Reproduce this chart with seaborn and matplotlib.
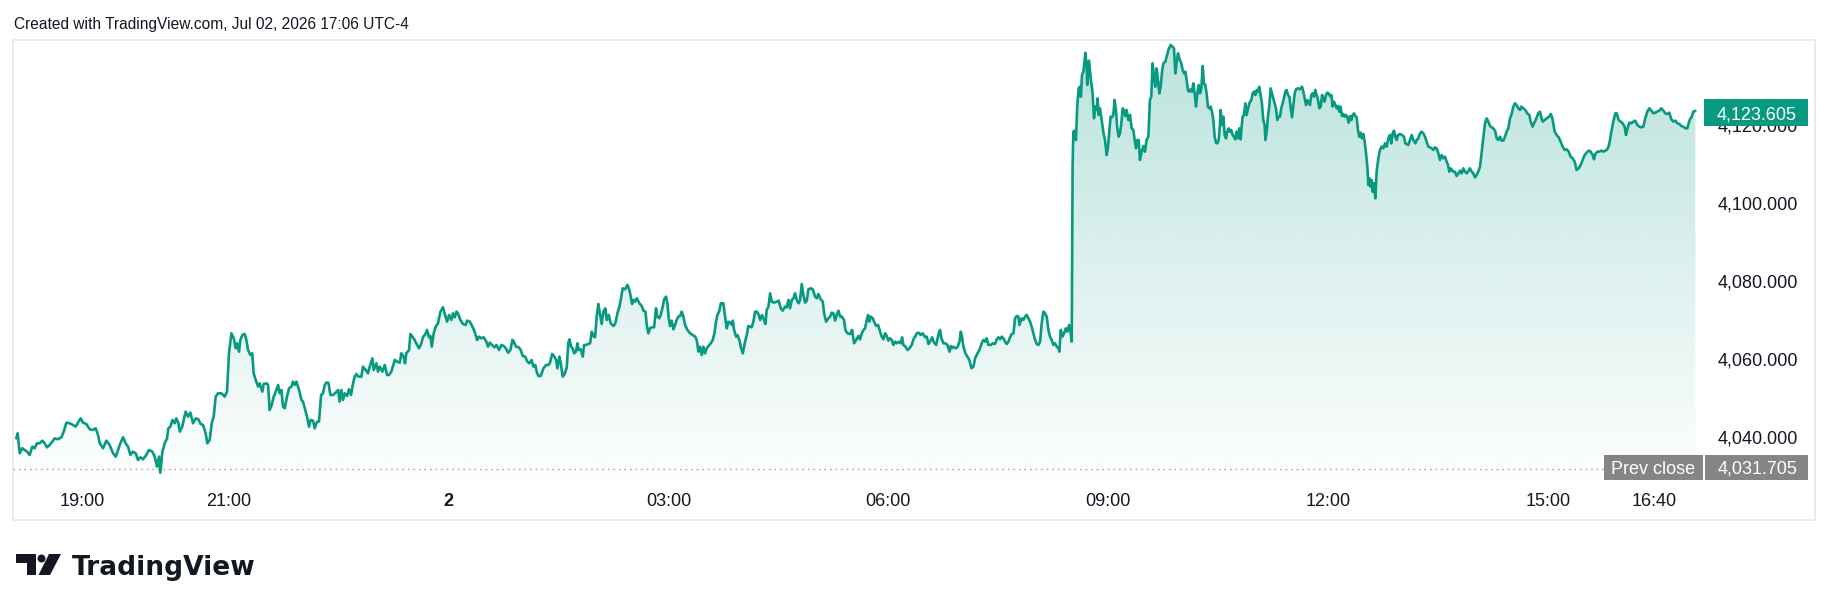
import numpy as np
import pandas as pd
import matplotlib
matplotlib.use("Agg")
import matplotlib.pyplot as plt
import matplotlib.colors as mcolors
import seaborn as sns
from matplotlib.patches import Rectangle, Polygon, Ellipse

# ---------------- data (time = minutes since 18:00 on Jul 1, price) ----------------
t_evening = [6.2, 7.3, 9.0, 11.1, 13.1, 15.0, 17.1, 19.3, 21.2, 23.1,
             25.3, 27.5, 29.4, 31.3, 33.5, 35.7, 37.6, 40.3, 43.1, 45.0,
             47.2, 49.9, 52.6, 54.8, 56.7, 58.9, 60.8, 63.5, 66.3, 69.0,
             71.2, 73.1, 74.5, 77.2, 79.9, 82.6, 85.4, 87.6, 89.5, 91.4,
             93.6, 95.7, 97.7, 99.6, 101.7, 103.9, 105.8, 107.8, 109.9, 112.1,
             114.8, 117.6, 119.5, 121.4, 123.0, 124.1, 125.8, 127.7, 129.6, 130.7,
             132.3, 134.0, 135.9, 137.2, 138.9, 140.0, 142.1, 143.8, 144.9, 146.8,
             148.7, 150.9, 153.1, 155.2, 157.1, 159.1, 161.2, 162.6, 164.5, 166.2,
             167.8, 169.4, 171.3, 174.1, 176.8, 178.7, 180.3, 182.3, 184.2, 185.8,
             186.9, 188.5, 189.6, 191.3, 193.2, 194.5, 195.9, 197.8, 199.4, 200.5,
             202.2, 204.1, 205.4, 207.6, 208.7, 210.9, 212.3, 213.6, 215.3, 216.9,
             219.1, 220.5, 221.8, 223.2, 224.6, 225.9, 227.8, 229.5, 231.4, 232.7,
             234.1, 235.5, 237.7, 239.6, 240.9, 243.1, 244.2, 245.8, 247.2, 249.1,
             250.5, 252.4, 254.0, 255.7, 257.3, 258.7, 260.0, 261.7, 263.3, 265.5,
             267.7, 269.6, 270.9, 272.3, 273.7, 275.0, 277.0, 278.6, 280.2, 281.9,
             283.2, 284.6, 286.2, 288.7, 290.0, 292.2, 294.1, 295.5, 297.7, 298.8,
             301.0, 302.3, 303.7, 305.9, 307.8, 309.7, 311.3, 313.2, 316.0, 317.9,
             320.1, 321.4, 323.3, 324.4, 325.5, 327.7, 328.8, 330.4, 332.3, 334.3,
             335.9, 337.8, 339.2, 340.8, 342.4, 344.1, 345.2, 346.3, 347.9, 349.5,
             351.4, 353.4, 355.5, 357.2, 358.8, 360.5, 362.4, 363.7, 365.1, 366.5,
             367.8, 369.7, 371.9, 374.1, 375.2, 377.4, 379.6, 381.7, 383.4, 385.0,
             386.9, 388.8, 391.0, 392.4, 393.8, 395.7, 397.6, 399.2, 401.4, 403.3,
             405.2, 406.9, 408.8, 410.7, 412.3]
p_evening = [4039.66, 4040.94, 4035.82, 4037.10, 4036.67, 4036.24, 4035.39, 4037.52, 4037.10, 4038.38,
             4038.38, 4039.06, 4038.38, 4037.35, 4037.95, 4038.81, 4039.66, 4039.41, 4039.92, 4041.37,
             4043.68, 4043.51, 4043.08, 4042.65, 4043.68, 4044.79, 4043.68, 4043.34, 4041.97, 4041.80,
             4042.23, 4040.52, 4038.38, 4037.10, 4039.06, 4037.95, 4035.82, 4034.96, 4036.67, 4038.38,
             4039.92, 4038.38, 4037.52, 4035.39, 4036.24, 4035.82, 4034.11, 4034.79, 4034.28, 4035.13,
             4036.67, 4036.24, 4034.96, 4032.40, 4034.96, 4030.86, 4036.24, 4038.38, 4039.66, 4042.23,
             4042.65, 4044.36, 4043.51, 4044.79, 4043.51, 4041.37, 4042.65, 4045.22, 4046.50, 4045.22,
             4046.24, 4043.51, 4044.79, 4044.53, 4043.34, 4043.08, 4040.94, 4038.38, 4039.23, 4043.51,
             4045.22, 4050.34, 4051.20, 4051.20, 4050.34, 4051.63, 4061.46, 4066.58, 4065.30, 4062.74,
             4064.02, 4061.88, 4064.87, 4066.16, 4066.41, 4064.87, 4062.31, 4061.03, 4061.46, 4056.33,
             4054.62, 4052.91, 4053.76, 4051.63, 4053.59, 4053.76, 4053.34, 4046.93, 4048.21, 4050.34,
             4052.05, 4053.34, 4051.20, 4052.05, 4047.78, 4047.35, 4050.34, 4052.48, 4052.91, 4054.19,
             4053.34, 4054.19, 4052.05, 4049.49, 4049.06, 4046.50, 4045.22, 4042.65, 4044.36, 4044.19,
             4042.23, 4043.93, 4043.93, 4050.77, 4051.20, 4053.34, 4053.93, 4053.93, 4050.77, 4050.77,
             4051.37, 4052.05, 4049.06, 4052.05, 4049.49, 4051.20, 4050.52, 4052.23, 4050.77, 4053.76,
             4055.47, 4056.16, 4055.47, 4055.47, 4058.04, 4057.18, 4056.33, 4058.04, 4060.17, 4057.18,
             4058.89, 4056.76, 4058.04, 4056.76, 4058.47, 4055.90, 4055.90, 4056.76, 4059.75, 4059.32,
             4059.06, 4061.46, 4060.60, 4058.89, 4061.46, 4062.31, 4066.41, 4065.73, 4064.87, 4063.59,
             4062.74, 4064.02, 4065.73, 4066.16, 4067.44, 4065.56, 4065.90, 4063.17, 4066.58, 4068.29,
             4069.15, 4072.14, 4073.25, 4071.29, 4069.58, 4071.29, 4070.00, 4071.71, 4070.69, 4072.14,
             4071.71, 4070.00, 4068.98, 4068.72, 4069.83, 4069.58, 4068.29, 4066.76, 4064.87, 4065.73,
             4065.30, 4065.56, 4064.45, 4063.17, 4064.19, 4063.59, 4062.99, 4063.59, 4062.31, 4063.59,
             4063.34, 4062.74, 4061.63, 4062.31, 4064.87]

t_night = [413.1, 415.3, 417.5, 419.1, 420.8, 422.7, 424.6, 426.2, 428.1, 429.5,
           431.1, 432.2, 433.6, 435.5, 437.7, 439.9, 441.8, 443.1, 444.8, 446.4,
           448.1, 449.1, 450.8, 451.9, 453.5, 455.1, 456.8, 458.1, 459.0, 460.3,
           461.7, 462.8, 464.4, 465.5, 466.6, 468.2, 469.9, 471.0, 472.6, 474.5,
           475.9, 477.3, 478.6, 480.0, 481.3, 482.7, 484.1, 485.4, 486.8, 488.4,
           489.5, 491.2, 492.8, 495.0, 496.6, 498.3, 499.9, 501.0, 502.6, 504.5,
           506.5, 508.1, 509.2, 510.3, 511.4, 512.7, 514.1, 516.3, 518.2, 519.6,
           521.2, 522.3, 523.6, 525.0, 526.4, 528.3, 529.9, 531.0, 532.7, 533.7,
           535.4, 536.5, 538.1, 539.2, 540.3, 541.4, 542.7, 544.1, 545.5, 546.8,
           548.2, 549.6, 550.9, 552.3, 553.7, 555.6, 557.8, 559.9, 561.9, 563.2,
           564.6, 565.9, 567.3, 568.7, 570.0, 571.4, 572.8, 574.7, 576.3, 577.7,
           579.0, 580.1, 581.8, 582.9, 585.0, 586.4, 587.8, 589.1, 590.5, 591.9,
           592.7, 593.8, 595.4, 596.5, 598.1, 599.2, 600.9, 602.8, 604.2, 605.5,
           606.9, 608.2, 609.6, 611.0, 612.3, 613.7, 615.1, 616.7, 618.3, 619.4,
           620.5, 621.9, 623.3, 624.6, 626.5, 628.7, 630.3, 632.0, 633.6, 635.5,
           636.9, 638.3, 639.6, 641.0, 642.4, 643.7, 645.1, 646.5, 647.8, 649.2,
           650.5, 651.9, 653.3, 654.6, 656.5, 658.2, 660.1, 661.5, 662.8, 664.7,
           666.4, 667.5, 669.1, 671.0, 672.4, 673.7, 675.1, 676.5, 677.8, 679.2,
           680.6, 681.9, 683.8, 684.9, 686.6, 688.8, 690.4, 692.0, 693.7, 695.6,
           696.9, 698.3, 699.7, 701.0, 702.4, 703.5, 704.6, 705.7, 707.3, 708.4,
           710.0, 711.7, 713.3, 714.7, 716.0, 717.4, 718.8, 720.1, 721.5, 722.9,
           724.2, 725.6, 727.0, 728.6, 730.2, 731.3, 732.4, 734.1, 735.7, 737.3,
           739.2, 740.6, 742.0, 743.3, 744.7, 746.6, 748.2, 750.2, 751.5, 752.9,
           754.2, 755.9, 757.5, 759.2, 760.2, 761.3, 762.4, 763.5, 765.2, 766.8,
           768.4, 770.1, 771.2, 772.3, 773.3, 775.0, 776.6, 778.3, 779.4, 780.4,
           781.5, 783.2, 784.8, 786.4, 788.1, 789.7, 791.1, 793.0, 794.6, 796.5,
           797.9, 799.3, 800.6, 802.0, 803.9, 805.6, 807.5, 808.8, 810.2, 811.6,
           812.9, 814.3, 815.6, 817.0, 818.4, 819.7, 821.1, 822.5, 823.8, 825.2,
           826.6, 827.4]
p_night = [4064.70, 4063.16, 4062.99, 4062.31, 4060.77, 4060.60, 4059.32, 4058.89, 4059.74, 4058.04,
           4058.46, 4056.75, 4055.64, 4055.64, 4057.61, 4058.46, 4058.46, 4059.06, 4061.28, 4060.77,
           4059.74, 4057.61, 4060.60, 4058.89, 4055.47, 4056.16, 4057.86, 4064.02, 4065.04, 4063.16,
           4062.74, 4061.45, 4061.88, 4064.02, 4062.31, 4062.48, 4060.60, 4063.59, 4063.59, 4063.85,
           4064.02, 4067.01, 4065.90, 4065.56, 4070.86, 4074.10, 4071.28, 4068.98, 4072.14, 4072.99,
           4070.00, 4071.28, 4069.15, 4068.46, 4069.15, 4071.71, 4073.42, 4075.13, 4078.12, 4077.86,
           4078.98, 4077.69, 4075.98, 4074.10, 4075.13, 4074.70, 4075.56, 4074.27, 4073.59, 4072.39,
           4072.14, 4068.72, 4066.58, 4067.87, 4068.12, 4068.12, 4072.99, 4070.86, 4070.43, 4071.28,
           4073.42, 4075.30, 4075.98, 4074.27, 4070.43, 4068.46, 4069.83, 4067.61, 4068.72, 4070.00,
           4070.86, 4071.03, 4072.14, 4070.86, 4068.72, 4067.44, 4066.58, 4066.16, 4065.73, 4064.87,
           4061.88, 4063.16, 4061.03, 4063.16, 4061.45, 4062.74, 4063.33, 4064.02, 4064.87, 4066.58,
           4069.57, 4071.28, 4072.39, 4074.27, 4074.27, 4070.86, 4067.87, 4069.57, 4069.32, 4068.72,
           4069.83, 4067.44, 4065.73, 4066.16, 4064.87, 4063.16, 4061.45, 4064.45, 4066.16, 4068.46,
           4068.29, 4068.12, 4069.57, 4072.14, 4072.14, 4071.54, 4070.00, 4071.28, 4070.00, 4068.98,
           4072.57, 4073.42, 4076.84, 4074.70, 4074.45, 4074.70, 4074.96, 4072.99, 4072.39, 4073.42,
           4073.25, 4075.13, 4072.99, 4075.13, 4075.56, 4076.84, 4075.13, 4074.27, 4075.13, 4079.23,
           4076.41, 4074.45, 4074.96, 4077.86, 4078.12, 4077.86, 4075.98, 4075.56, 4076.67, 4075.30,
           4074.70, 4071.71, 4069.57, 4070.43, 4070.86, 4071.88, 4071.71, 4069.83, 4071.28, 4072.39,
           4070.86, 4070.86, 4070.00, 4067.44, 4066.58, 4066.41, 4067.44, 4064.02, 4064.87, 4065.90,
           4065.04, 4066.58, 4067.44, 4067.87, 4070.00, 4071.28, 4069.57, 4070.86, 4070.43, 4069.57,
           4068.46, 4068.72, 4067.01, 4065.73, 4065.04, 4066.58, 4065.90, 4064.70, 4065.30, 4064.87,
           4063.59, 4064.45, 4064.02, 4064.45, 4064.02, 4065.56, 4063.59, 4063.16, 4062.31, 4062.74,
           4063.59, 4065.04, 4065.73, 4066.58, 4066.75, 4066.16, 4066.58, 4065.56, 4065.73, 4063.85,
           4064.45, 4065.56, 4064.19, 4063.59, 4065.04, 4066.58, 4067.44, 4065.30, 4064.02, 4064.02,
           4063.59, 4061.88, 4063.33, 4062.74, 4063.16, 4062.74, 4063.00, 4064.45, 4067.01, 4065.73,
           4063.16, 4061.45, 4060.60, 4059.74, 4057.61, 4058.04, 4060.17, 4061.45, 4062.31, 4064.02,
           4064.87, 4064.45, 4065.30, 4063.59, 4063.59, 4064.02, 4063.85, 4065.04, 4065.56, 4065.04,
           4065.73, 4065.30, 4064.45, 4063.85, 4064.45, 4065.56, 4066.41, 4066.58, 4070.43, 4071.03,
           4070.86, 4068.72]

t_premarket = [829.2, 830.6, 832.0, 833.3, 834.7, 836.1, 837.4, 838.8, 840.2, 841.5,
               842.9, 844.3, 845.6, 847.0, 848.4, 849.7, 851.1, 852.4, 853.8, 855.2,
               856.5, 857.9, 859.3, 860.1, 861.2, 862.5, 863.9, 865.3, 866.6, 868.0,
               869.4, 870.2]
p_premarket = [4070.43, 4070.00, 4070.86, 4071.29, 4070.43, 4069.58, 4068.29, 4066.58, 4064.88, 4063.85,
               4063.59, 4064.45, 4069.15, 4072.14, 4071.71, 4070.86, 4067.44, 4065.73, 4064.88, 4063.59,
               4064.02, 4063.17, 4062.74, 4061.88, 4067.44, 4065.73, 4066.58, 4067.87, 4067.01, 4068.72,
               4066.58, 4064.45]

t_day = [870.9, 871.5, 872.8, 873.6, 874.7, 875.8, 876.9, 877.7, 878.6, 879.7,
         880.5, 881.3, 882.4, 882.9, 883.5, 884.3, 885.1, 885.9, 887.3, 888.4,
         889.5, 890.6, 891.4, 892.2, 893.3, 894.7, 896.0, 897.4, 898.8, 899.9,
         900.9, 902.0, 903.1, 904.2, 905.3, 906.4, 907.5, 908.6, 909.7, 910.8,
         911.9, 912.9, 914.0, 915.1, 916.5, 917.9, 919.2, 920.6, 921.7, 922.8,
         923.9, 925.0, 926.0, 927.4, 928.8, 930.1, 931.5, 932.9, 934.2, 935.3,
         936.4, 937.5, 938.6, 939.7, 940.8, 941.9, 943.0, 944.1, 945.2, 946.8,
         947.9, 949.5, 951.2, 952.2, 953.9, 955.0, 956.1, 957.2, 958.2, 959.9,
         961.0, 962.1, 963.2, 964.3, 965.3, 966.4, 967.5, 968.6, 969.7, 970.8,
         971.9, 973.0, 974.1, 975.2, 976.3, 977.4, 978.4, 979.5, 980.6, 981.7,
         982.8, 983.9, 985.0, 986.1, 987.2, 988.3, 989.4, 990.5, 991.5, 992.1,
         993.2, 994.3, 995.4, 996.5, 997.5, 998.6, 999.7, 1000.8, 1001.9, 1003.0,
         1004.1, 1005.2, 1006.3, 1007.4, 1008.5, 1009.3, 1010.1, 1011.2, 1012.3, 1013.4,
         1014.5, 1015.6, 1017.2, 1018.3, 1019.4, 1020.5, 1021.6, 1022.7, 1023.7, 1024.8,
         1025.9, 1027.0, 1028.1, 1028.7, 1029.8, 1030.8, 1031.9, 1033.0, 1034.1, 1035.2,
         1036.3, 1037.4, 1038.5, 1039.6, 1040.7, 1041.7, 1042.8, 1043.9, 1045.0, 1046.1,
         1047.2, 1048.3, 1049.4, 1050.5, 1051.6, 1052.7, 1053.8, 1055.4, 1057.0, 1058.7,
         1059.8, 1060.9, 1062.0, 1063.0, 1064.1, 1065.2, 1066.3, 1067.4, 1068.5, 1069.6,
         1070.7, 1071.8, 1072.9, 1074.0, 1075.1, 1076.1, 1077.2, 1078.3, 1079.4, 1080.5,
         1081.6, 1082.7, 1083.8, 1084.9, 1086.0, 1087.1, 1088.2, 1089.2, 1090.3, 1091.4,
         1092.5, 1093.6, 1094.7, 1095.8, 1096.9, 1098.0, 1099.1, 1100.2, 1101.3, 1102.3,
         1103.4, 1104.5, 1105.6, 1106.7, 1107.8, 1108.9, 1110.0, 1111.1, 1112.2, 1113.0,
         1113.8, 1114.9, 1115.7, 1116.5, 1117.6, 1118.7, 1119.8, 1121.2, 1122.5, 1123.9,
         1125.3, 1126.6, 1128.0, 1129.4, 1130.7, 1131.8, 1132.9, 1134.0, 1135.1, 1136.2,
         1137.3, 1138.9, 1140.5, 1142.2, 1143.3, 1144.4, 1145.7, 1147.1, 1148.5, 1149.8,
         1151.5, 1152.6, 1153.9, 1155.3, 1156.6, 1158.0, 1159.4, 1160.7, 1162.1, 1163.5,
         1164.8, 1166.2, 1167.6, 1168.9, 1170.3, 1171.7, 1173.0, 1174.4, 1175.8, 1177.1,
         1178.2, 1179.3, 1180.4, 1181.5, 1182.6, 1183.9, 1185.3, 1186.7, 1188.0, 1189.4,
         1190.8, 1192.1, 1193.5, 1194.9, 1196.2, 1197.6, 1198.9, 1200.3, 1201.7, 1203.0,
         1204.4, 1205.8, 1207.1, 1208.5, 1209.9, 1211.2, 1212.6, 1214.0, 1215.3, 1216.7,
         1218.1, 1219.4, 1220.8, 1222.1, 1223.5, 1224.9, 1226.2, 1227.6, 1229.0, 1230.3,
         1231.7, 1233.1, 1234.4, 1235.8, 1237.2]
p_day = [4109.31, 4118.29, 4118.54, 4116.15, 4124.70, 4129.40, 4129.82, 4127.26, 4132.82, 4133.67,
         4135.81, 4138.54, 4134.95, 4130.25, 4132.39, 4136.49, 4134.10, 4131.53, 4128.11, 4121.71,
         4124.70, 4123.84, 4126.83, 4122.56, 4124.27, 4121.28, 4118.29, 4116.15, 4112.30, 4114.44,
         4118.29, 4122.13, 4121.96, 4122.56, 4126.41, 4123.84, 4119.14, 4117.00, 4117.86, 4120.42,
         4124.27, 4123.84, 4122.30, 4123.84, 4121.28, 4122.56, 4119.14, 4118.71, 4116.15, 4114.01,
         4116.15, 4116.15, 4111.02, 4113.16, 4114.61, 4113.16, 4116.15, 4117.00, 4126.41, 4127.26,
         4135.81, 4132.39, 4129.82, 4134.53, 4131.53, 4128.11, 4129.82, 4133.67, 4135.81, 4136.23,
         4137.52, 4139.40, 4140.51, 4140.25, 4139.65, 4133.24, 4136.23, 4138.37, 4137.09, 4135.81,
         4134.10, 4133.24, 4133.67, 4131.53, 4128.97, 4128.54, 4129.14, 4128.54, 4130.68, 4128.11,
         4124.70, 4128.11, 4130.25, 4128.11, 4129.40, 4135.12, 4130.68, 4130.25, 4128.11, 4124.70,
         4124.27, 4124.70, 4123.41, 4121.28, 4117.00, 4115.47, 4115.29, 4116.15, 4120.00, 4123.84,
         4120.00, 4122.13, 4117.43, 4116.58, 4118.29, 4119.14, 4118.29, 4118.71, 4117.43, 4117.00,
         4116.32, 4118.29, 4116.58, 4119.14, 4116.32, 4119.57, 4122.13, 4122.56, 4125.55, 4122.56,
         4124.27, 4125.55, 4126.41, 4128.11, 4128.54, 4127.69, 4128.97, 4128.54, 4129.82, 4127.69,
         4125.55, 4121.28, 4120.00, 4116.15, 4118.29, 4122.13, 4124.70, 4129.40, 4128.11, 4126.83,
         4125.55, 4124.27, 4121.28, 4122.13, 4122.13, 4124.27, 4125.55, 4126.83, 4128.54, 4128.97,
         4127.69, 4127.26, 4124.70, 4121.96, 4125.12, 4128.11, 4129.14, 4129.40, 4129.14, 4129.82,
         4128.54, 4126.83, 4125.12, 4126.41, 4125.98, 4125.12, 4127.69, 4128.11, 4127.26, 4128.97,
         4127.69, 4126.41, 4124.27, 4124.70, 4127.69, 4126.83, 4125.98, 4127.69, 4128.29, 4128.11,
         4127.43, 4127.69, 4124.70, 4125.98, 4125.12, 4124.27, 4124.87, 4123.41, 4124.70, 4122.30,
         4122.82, 4122.13, 4122.56, 4121.96, 4120.59, 4122.30, 4121.28, 4122.56, 4122.99, 4122.30,
         4121.96, 4118.71, 4117.00, 4118.03, 4116.58, 4117.69, 4115.72, 4112.73, 4109.31, 4104.61,
         4106.32, 4104.18, 4105.89, 4102.90, 4105.04, 4101.19, 4108.03, 4111.45, 4113.58, 4114.44,
         4114.01, 4115.29, 4114.44, 4116.58, 4117.43, 4115.29, 4117.86, 4118.54, 4117.00, 4116.15,
         4117.43, 4117.69, 4117.43, 4117.00, 4115.29, 4115.12, 4114.87, 4116.15, 4117.43, 4116.15,
         4115.29, 4116.15, 4116.58, 4117.86, 4118.29, 4117.86, 4117.00, 4115.72, 4114.44, 4114.27,
         4114.01, 4113.58, 4114.27, 4114.01, 4112.73, 4111.02, 4112.30, 4111.45, 4111.88, 4110.59,
         4109.74, 4108.03, 4108.88, 4108.46, 4108.03, 4108.03, 4106.92, 4107.60, 4108.29, 4107.60,
         4108.88, 4108.03, 4107.60, 4108.29, 4108.88, 4108.03, 4107.60, 4106.58, 4107.17, 4108.03,
         4109.31, 4113.16, 4116.58, 4120.42, 4121.71, 4120.85, 4119.74, 4119.40, 4119.14, 4118.54,
         4116.58, 4116.15, 4117.00, 4115.98, 4115.98, 4117.00, 4118.29, 4119.14, 4121.71, 4122.82,
         4124.70, 4125.55, 4125.12, 4124.27, 4123.84]

t_late = [1238.2, 1239.9, 1241.5, 1243.1, 1244.8, 1245.9, 1247.5, 1248.6, 1250.2, 1252.1,
          1253.5, 1254.6, 1255.7, 1257.3, 1259.0, 1261.1, 1262.2, 1263.3, 1264.4, 1265.5,
          1267.1, 1268.8, 1270.4, 1272.1, 1273.7, 1275.3, 1277.0, 1278.6, 1280.2, 1281.9,
          1283.5, 1285.2, 1286.8, 1288.4, 1290.1, 1291.7, 1293.3, 1295.0, 1296.6, 1297.7,
          1298.8, 1300.4, 1302.1, 1303.7, 1305.3, 1307.0, 1308.1, 1309.7, 1310.8, 1312.2,
          1313.5, 1315.2, 1316.3, 1317.9, 1319.5, 1321.2, 1322.8, 1323.9, 1325.0, 1326.6,
          1328.3, 1329.9, 1331.5, 1333.2, 1334.8, 1336.5, 1338.1, 1339.7, 1341.4, 1343.0,
          1344.6, 1346.3, 1347.9, 1349.6, 1351.2, 1352.8, 1354.5, 1356.1, 1357.7, 1359.4,
          1361.0, 1362.7, 1364.3, 1365.9, 1367.6, 1369.2, 1370.8, 1372.5, 1374.1, 1375.2,
          1376.3, 1377.7, 1379.0, 1380.7]
p_late = [4124.70, 4124.28, 4123.85, 4122.99, 4122.57, 4120.86, 4119.57, 4120.43, 4121.45, 4122.99,
          4123.42, 4121.97, 4120.86, 4121.28, 4121.71, 4122.14, 4122.82, 4122.14, 4120.43, 4118.29,
          4117.44, 4116.84, 4115.73, 4114.45, 4113.59, 4113.76, 4113.16, 4111.88, 4111.46, 4110.60,
          4108.46, 4108.89, 4109.75, 4111.03, 4112.31, 4112.91, 4113.42, 4113.16, 4112.31, 4111.20,
          4112.57, 4113.16, 4113.16, 4113.42, 4113.16, 4113.42, 4113.59, 4114.45, 4116.16, 4118.72,
          4120.86, 4122.99, 4122.99, 4121.28, 4120.86, 4120.43, 4119.57, 4117.44, 4118.89, 4120.60,
          4120.43, 4120.86, 4121.11, 4120.00, 4119.57, 4119.40, 4119.57, 4121.71, 4123.42, 4124.28,
          4123.68, 4122.99, 4123.16, 4123.42, 4123.68, 4124.28, 4123.68, 4122.99, 4122.82, 4123.16,
          4121.45, 4120.86, 4121.11, 4120.43, 4120.26, 4119.75, 4119.57, 4119.15, 4119.15, 4120.43,
          4121.45, 4122.14, 4123.42, 4123.605]

prev_close = 4031.705
last_price = 4123.605

x_tick_pos = [60, 180, 360, 540, 720, 900, 1080, 1260, 1347]
x_tick_labels = ["19:00", "21:00", "2", "03:00", "06:00", "09:00", "12:00", "15:00", "16:40"]
y_tick_vals = [4040, 4060, 4080, 4100, 4120]
title_text = "Created with TradingView.com, Jul 02, 2026 17:06 UTC-4"

# ---------------- styling ----------------
LINE = "#089981"
TXT = "#131722"
GREY_BOX = "#858585"

sns.set_theme(style="white")
plt.rcParams['font.family'] = ['Liberation Sans', 'DejaVu Sans']

W, H = 1830, 611
fig = plt.figure(figsize=(W / 100, H / 100), dpi=100)
fig.patch.set_facecolor("white")


def fx(px):
    return px / W


def fy(py):
    return 1 - py / H


# outer frame
fig.add_artist(Rectangle((fx(13), fy(520)), 1802 / W, 480 / H, transform=fig.transFigure,
                         fill=False, edgecolor="#e8e8e8", linewidth=1.2, zorder=0))

ax = fig.add_axes([fx(13), fy(480), (1700 - 13) / W, (480 - 40) / H])
ax.set_facecolor("none")

df = pd.DataFrame({
    "t": t_evening + t_night + t_premarket + t_day + t_late,
    "p": p_evening + p_night + p_premarket + p_day + p_late,
})

xmin, xmax = 3.5, 1384.5
ymin, ymax = 4028.97, 4141.79

# gradient area fill
n = 256
rgba = np.zeros((n, 1, 4))
rgba[:, 0, :3] = mcolors.to_rgb(LINE)
rgba[:, 0, 3] = np.linspace(0.01, 0.28, n)
im = ax.imshow(rgba, extent=[xmin, xmax, ymin, ymax], origin="lower",
               aspect="auto", interpolation="bilinear", zorder=1)
poly = ax.fill_between(df["t"], df["p"], ymin, facecolor="none", edgecolor="none")
im.set_clip_path(poly.get_paths()[0], transform=ax.transData)

# previous close dotted line
ax.axhline(prev_close, color="#9598a1", linewidth=1.0, linestyle=(0, (1, 3)), zorder=2)

# main line
sns.lineplot(data=df, x="t", y="p", ax=ax, color=LINE, linewidth=1.9,
             estimator=None, sort=False, zorder=3)

ax.set_xlim(xmin, xmax)
ax.set_ylim(ymin, ymax)
ax.set_xlabel("")
ax.set_ylabel("")
for s in ax.spines.values():
    s.set_visible(False)
ax.grid(False)

ax.set_xticks(x_tick_pos)
ax.set_xticklabels(x_tick_labels)
ax.tick_params(axis="x", length=0, pad=9, labelsize=13, labelcolor=TXT)
for lbl in ax.get_xticklabels():
    if lbl.get_text() == "2":
        lbl.set_fontweight("bold")

ax.yaxis.tick_right()
ax.set_yticks(y_tick_vals)
ax.set_yticklabels([f"{v:,.3f}" for v in y_tick_vals])
ax.tick_params(axis="y", length=0, pad=13, labelsize=13, labelcolor=TXT)


def val_to_py(v):
    disp = ax.transData.transform((xmin, v))
    return H - disp[1]


def box(x0, x1, yc, h, color):
    fig.add_artist(Rectangle((fx(x0), fy(yc + h / 2)), (x1 - x0) / W, h / H,
                             transform=fig.transFigure, facecolor=color,
                             edgecolor="none", zorder=5))


# last price label
yl = val_to_py(last_price) + 2
box(1704, 1808, yl, 27, LINE)
fig.text(fx(1797), fy(yl), f"{last_price:,.3f}", ha="right", va="center_baseline",
         color="white", fontsize=13, zorder=6)

# prev close labels
yp = val_to_py(prev_close) - 2
box(1604, 1703, yp, 25, GREY_BOX)
box(1705, 1808, yp, 25, GREY_BOX)
fig.text(fx(1653), fy(yp), "Prev close", ha="center", va="center_baseline",
         color="white", fontsize=13, zorder=6)
fig.text(fx(1797), fy(yp), f"{prev_close:,.3f}", ha="right", va="center_baseline",
         color="white", fontsize=13, zorder=6)

# header
fig.text(fx(14), fy(29), title_text, ha="left", va="baseline", color=TXT, fontsize=11.2)

# TradingView logo
logo_T = [(16, 554), (36, 554), (36, 575), (26.5, 575), (26.5, 563), (16, 563)]
fig.add_artist(Polygon([(fx(x), fy(y)) for x, y in logo_T], closed=True,
                       transform=fig.transFigure, facecolor=TXT, edgecolor="none"))
fig.add_artist(Ellipse((fx(41.5), fy(558.5)), 8.0 / W, 8.0 / H, transform=fig.transFigure,
                       facecolor=TXT, edgecolor="none"))
logo_slash = [(49, 554), (61, 554), (50, 575), (38.5, 575)]
fig.add_artist(Polygon([(fx(x), fy(y)) for x, y in logo_slash], closed=True,
                       transform=fig.transFigure, facecolor=TXT, edgecolor="none"))
fig.text(fx(72), fy(575), "TradingView", ha="left", va="baseline", color=TXT,
         fontsize=19.1, fontweight="bold", family=["DejaVu Sans"])

fig.savefig("out.png", dpi=100, facecolor="white")
